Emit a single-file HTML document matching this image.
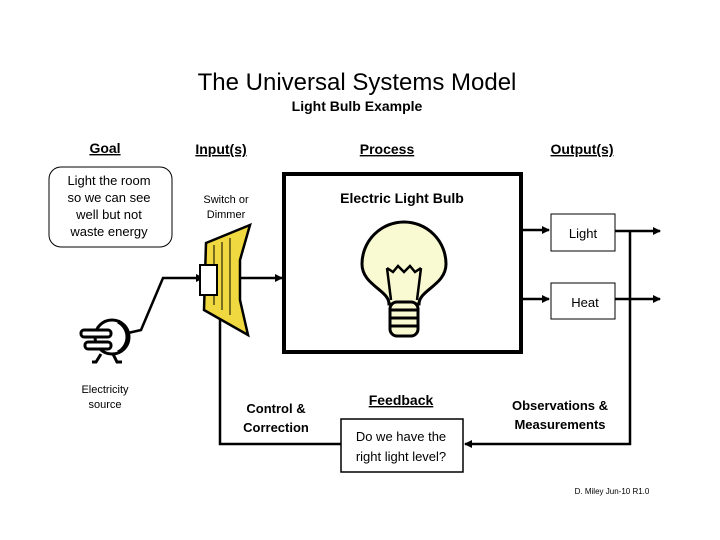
<!DOCTYPE html>
<html><head><meta charset="utf-8"><style>
html,body{margin:0;padding:0;background:#fff;}
svg{display:block;}
text{font-family:"Liberation Sans",sans-serif;}
</style></head><body>
<svg width="720" height="540" viewBox="0 0 720 540" xmlns="http://www.w3.org/2000/svg">
<defs><marker id="a" markerWidth="8" markerHeight="8" refX="7" refY="4" orient="auto" markerUnits="userSpaceOnUse"><path d="M0,0 L8,4 L0,8 z" fill="#000"/></marker></defs>
<text x="357" y="90" font-size="24" text-anchor="middle">The Universal Systems Model</text>
<text x="357" y="111" font-size="14" font-weight="bold" text-anchor="middle">Light Bulb Example</text>
<g font-size="14" font-weight="bold" text-decoration="underline" text-anchor="middle">
<text x="105" y="153">Goal</text><text x="221" y="154">Input(s)</text><text x="387" y="154">Process</text><text x="582" y="154">Output(s)</text>
<text x="401" y="405">Feedback</text></g>
<rect x="49" y="167" width="123" height="80" rx="12" fill="#fff" stroke="#000" stroke-width="1"/>
<g font-size="13" text-anchor="middle"><text x="109" y="185">Light the room</text><text x="109" y="202">so we can see</text><text x="109" y="219">well but not</text><text x="109" y="236">waste energy</text></g>
<g font-size="11" text-anchor="middle"><text x="226" y="203">Switch or</text><text x="226" y="218">Dimmer</text>
<text x="105" y="393">Electricity</text><text x="105" y="408">source</text>
<text x="612" y="494" font-size="8">D. Miley  Jun-10  R1.0</text></g>
<rect x="284" y="174" width="237" height="178" fill="#fff" stroke="#000" stroke-width="4"/>
<text x="402" y="203" font-size="14" font-weight="bold" text-anchor="middle">Electric Light Bulb</text>
<path d="M389,304 C389,290 362,285 362,264 A42,42 0 1 1 446,264 C446,285 419,290 419,304 Z" fill="#fafad2" stroke="#000" stroke-width="3"/>
<rect x="390" y="302" width="28" height="34" rx="7" fill="#fafad2" stroke="#000" stroke-width="3"/>
<g stroke="#000" stroke-width="3"><line x1="391" y1="310" x2="417" y2="310"/><line x1="391" y1="318" x2="417" y2="318"/><line x1="391" y1="326" x2="417" y2="326"/></g>
<path d="M391,300 L387,268 M417,300 L421,268 M387,268 L393,272 L398,266 L404,272 L410,266 L415,272 L421,268" fill="none" stroke="#000" stroke-width="2.5"/>
<rect x="551" y="214" width="64" height="37" fill="#fff" stroke="#000"/>
<rect x="551" y="283" width="64" height="36" fill="#fff" stroke="#000"/>
<text x="583" y="238" font-size="13" text-anchor="middle">Light</text>
<text x="585" y="307" font-size="13" text-anchor="middle">Heat</text>
<rect x="341" y="419" width="122" height="53" fill="#fff" stroke="#000" stroke-width="1.5"/>
<g font-size="13" text-anchor="middle"><text x="401" y="441">Do we have the</text><text x="401" y="461">right light level?</text></g>
<g font-size="13" font-weight="bold" text-anchor="middle"><text x="276" y="413">Control &amp;</text><text x="276" y="432">Correction</text>
<text x="560" y="410">Observations &amp;</text><text x="560" y="429">Measurements</text></g>
<g stroke="#000" stroke-width="2.5" fill="none">
<line x1="521" y1="230" x2="549" y2="230" marker-end="url(#a)"/>
<line x1="521" y1="299" x2="549" y2="299" marker-end="url(#a)"/>
<line x1="615" y1="231" x2="660" y2="231" marker-end="url(#a)"/>
<line x1="615" y1="299" x2="660" y2="299" marker-end="url(#a)"/>
<polyline points="630,231 630,444 465,444" marker-end="url(#a)"/>
<polyline points="341,444 220,444 220,309" marker-end="url(#a)"/>
<line x1="241" y1="278" x2="282" y2="278" marker-end="url(#a)"/>
<polyline points="128,333 141,330 163,278 203,278" marker-end="url(#a)"/>
</g>
<path d="M206,243 L250,225 L240,260 L240,300 L248,335 L204,310 Z" fill="#f0d840" stroke="#000" stroke-width="2.5"/>
<g stroke="#000" stroke-width="1"><line x1="214" y1="245" x2="214" y2="305"/><line x1="222" y1="242" x2="222" y2="310"/><line x1="230" y1="238" x2="230" y2="315"/></g>
<rect x="200" y="265" width="17" height="30" fill="#fff" stroke="#000" stroke-width="2"/>
<g stroke="#000" stroke-width="3" fill="none">
<circle cx="112" cy="337" r="17" fill="#fff"/>
<path d="M118,322 A17,17 0 0 1 118,352"/>
<rect x="81" y="330" width="30" height="7" rx="3" fill="#fff"/><rect x="85" y="342" width="26" height="7" rx="3" fill="#fff"/>
<path d="M101,354 L96,362 L92,362 M113,354 L117,362 L122,362"/>
</g>
</svg>
</body></html>
